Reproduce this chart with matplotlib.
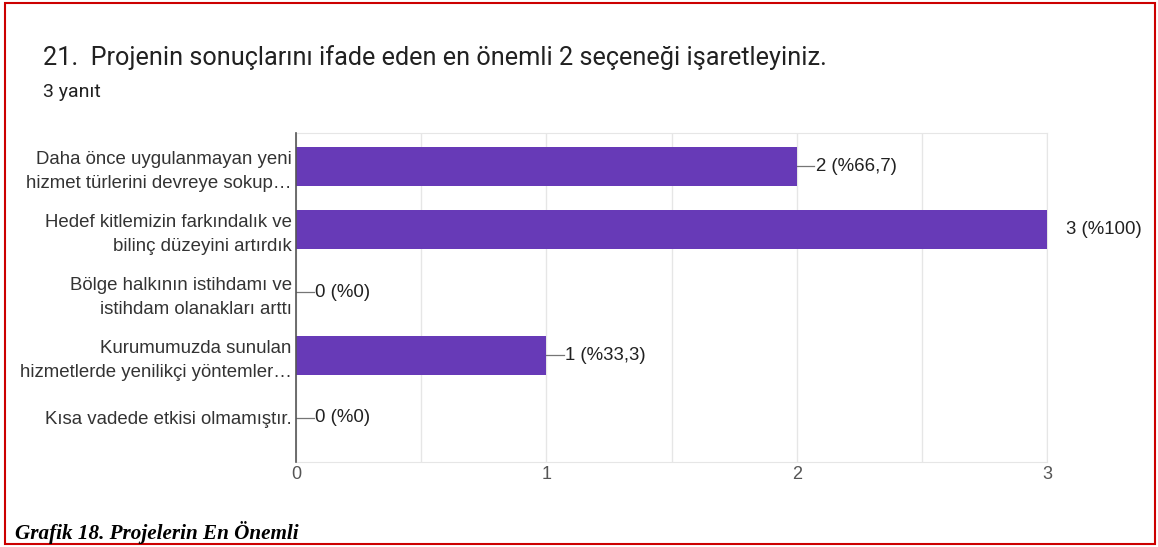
import matplotlib
matplotlib.use("Agg")
import matplotlib.pyplot as plt
from matplotlib.patches import Rectangle

CATEGORIES = [
    "Daha önce uygulanmayan yeni\nhizmet türlerini devreye sokup…",
    "Hedef kitlemizin farkındalık ve\nbilinç düzeyini artırdık",
    "Bölge halkının istihdamı ve\nistihdam olanakları arttı",
    "Kurumumuzda sunulan\nhizmetlerde yenilikçi yöntemler…",
    "Kısa vadede etkisi olmamıştır.",
]
COUNTS = [2, 3, 0, 1, 0]
PERCENTS = ["%66,7", "%100", "%0", "%33,3", "%0"]
X_TICKS = [0, 1, 2, 3]

TITLE = "21.  Projenin sonuçlarını ifade eden en önemli 2 seçeneği işaretleyiniz."
SUBTITLE = "3 yanıt"
CAPTION = "Grafik 18. Projelerin En Önemli"

PURPLE = "#673ab7"
TEXT = "#212121"
CHART_FONT = ["Liberation Sans", "DejaVu Sans"]

plt.rcParams["font.family"] = ["Roboto", "DejaVu Sans"]

fig = plt.figure(figsize=(11.58, 5.47), dpi=100)
ax = fig.add_axes([296 / 1158, 1 - 462 / 547, 751 / 1158, 329 / 547])

y = list(range(len(CATEGORIES)))
ax.barh(y, COUNTS, height=0.62, color=PURPLE, zorder=3)

# leader line + value label
for yi, c, p in zip(y, COUNTS, PERCENTS):
    ax.plot([c, c + 0.07], [yi, yi], color="#757575", lw=0.9, zorder=2, clip_on=True)
    ax.text(c + 0.076, yi, f"{c} ({p})", va="center", ha="left",
            fontsize=13.4, color=TEXT, family=CHART_FONT, clip_on=False)

ax.set_xlim(0, 3)
ax.set_ylim(4.7, -0.53)
ax.set_xticks([0, 0.5, 1, 1.5, 2, 2.5, 3])
ax.set_xticklabels(["0", "", "1", "", "2", "", "3"], family=CHART_FONT)
ax.set_yticks(y)
ax.set_yticklabels(CATEGORIES, fontsize=13.4, color="#333333", linespacing=1.52,
                   family=CHART_FONT)
ax.tick_params(axis="y", length=0, pad=3)
ax.tick_params(axis="x", length=0, pad=3, labelsize=13, labelcolor="#555555")
ax.grid(axis="x", color="#e6e6e6", lw=1, zorder=0)

for side in ("top", "right", "bottom"):
    ax.spines[side].set_color("#e6e6e6")
ax.spines["left"].set_color("#555555")
ax.spines["left"].set_linewidth(1.2)
ax.spines["left"].set_zorder(4)

fig.text(43 / 1158, 1 - 58 / 547, TITLE, fontsize=18.2, color=TEXT, va="center")
fig.text(43 / 1158, 1 - 92 / 547, SUBTITLE, fontsize=14, color=TEXT, va="center")
fig.text(15 / 1158, 1 - 532 / 547, CAPTION, fontsize=15.2, color="black",
         family="Liberation Serif", style="italic", weight="bold", va="center")

fig.patches.append(Rectangle((5 / 1158, 3 / 547), 1150 / 1158, 541 / 547,
                             transform=fig.transFigure, fill=False,
                             edgecolor="#cc0000", lw=1.5))

fig.savefig("out.png", dpi=100)
